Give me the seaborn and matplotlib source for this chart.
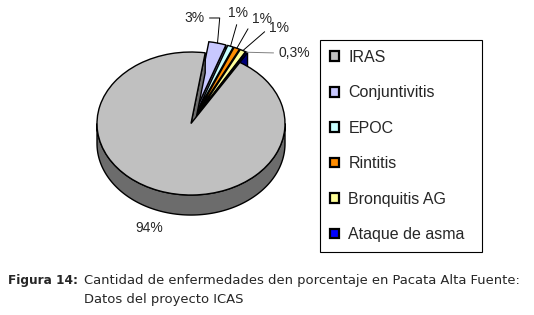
import numpy as np
import matplotlib
matplotlib.use("Agg")
import matplotlib.pyplot as plt
import seaborn as sns
from matplotlib.patches import Patch

# data
diseases = ["IRAS", "Conjuntivitis", "EPOC", "Rintitis", "Bronquitis AG", "Ataque de asma"]
percents = [94, 3, 1, 1, 1, 0.3]
pct_labels = ["94%", "3%", "1%", "1%", "1%", "0,3%"]

# style
top_colors = ["#c0c0c0", "#c8c8ff", "#c8ffff", "#ff8c00", "#ffff99", "#0000ff"]
side_colors = ["#6c6c6c", "#6c6c9c", "#6c9c9c", "#9c5400", "#9c9c50", "#00007c"]
explode = [0, 0.16, 0.16, 0.16, 0.16, 0.16]
DEPTH = 0.28

sns.set_style("white")
plt.rcParams["font.family"] = ["Liberation Sans", "DejaVu Sans"]

fig = plt.figure(figsize=(5.34, 3.15), dpi=100)
# pie axes: 1 unit = 94 px in x, 71.5 px in y (tilted look)
ax = fig.add_axes([54.7 / 534, 0.222, 272.6 / 534, 243.1 / 315])

wedges, _ = ax.pie(percents, explode=explode, startangle=58.7, counterclock=False,
                   colors=top_colors,
                   wedgeprops=dict(edgecolor="black", linewidth=1.0))
ax.set_aspect("auto")
ax.set_xlim(-1.45, 1.45)
ax.set_ylim(-1.7, 1.7)
ax.axis("off")

# draw order: small exploded slices first (back), big slice last (front)
order = [1, 2, 3, 4, 5, 0]
z = 1
for i in order:
    w = wedges[i]
    cx, cy = w.center
    th = np.deg2rad(w.theta1)          # clockwise edge -> visible cut face
    ex, ey = cx + np.cos(th), cy + np.sin(th)
    ax.fill([cx, ex, ex, cx], [cy, ey, ey - DEPTH, cy - DEPTH],
            facecolor=side_colors[i], edgecolor="black", linewidth=1.0, zorder=z)
    z += 1
    # front rim (only the part facing the viewer)
    lo, hi = max(w.theta1, -180), min(w.theta2, 0)
    if hi > lo:
        t = np.deg2rad(np.linspace(lo, hi, 120))
        xs = cx + np.cos(t)
        ys = cy + np.sin(t)
        ax.fill(np.r_[xs, xs[::-1]], np.r_[ys, ys[::-1] - DEPTH],
                facecolor=side_colors[i], edgecolor="black", linewidth=1.0, zorder=z)
        z += 1
    w.set_zorder(z)
    z += 1

# percent labels with leader lines
label_pos = [(-0.447, -1.462), (0.04, 1.476), (0.5, 1.545),
             (0.755, 1.46), (0.936, 1.336), (1.096, 0.986)]
rel_pos = [None, (1, 0.5), (0.5, 0), (0, 0.3), (0, 0.5), (0, 0.5)]
conn = [None, "angle,angleA=0,angleB=85,rad=0", "arc3", "arc3", "arc3", "arc3"]
line_col = [None, "black", "black", "black", "black", "#808080"]
for i, w in enumerate(wedges):
    if i == 0:
        ax.text(*label_pos[i], pct_labels[i], fontsize=10, ha="center", va="center")
        continue
    cx, cy = w.center
    m = np.deg2rad((w.theta1 + w.theta2) / 2)
    ax.annotate(pct_labels[i], xy=(cx + np.cos(m), cy + np.sin(m)),
                xytext=label_pos[i], fontsize=10, ha="center", va="center",
                arrowprops=dict(arrowstyle="-", color=line_col[i], lw=0.7,
                                shrinkA=1, shrinkB=0, relpos=rel_pos[i],
                                connectionstyle=conn[i]),
                zorder=30)

handles = [Patch(facecolor=c, edgecolor="black", linewidth=1.6) for c in top_colors]
leg = fig.legend(handles, diseases, loc="upper left", mode="expand",
                 bbox_to_anchor=(320 / 534, 1 - 250 / 315, 162 / 534, 210 / 315),
                 borderaxespad=0,
                 fontsize=11.5, handlelength=0.55, handleheight=0.55,
                 handletextpad=0.6, labelspacing=1.28, borderpad=0.62,
                 fancybox=False, framealpha=1, edgecolor="black")
leg.get_frame().set_linewidth(0.8)

fig.text(8 / 534, 1 - 284 / 315, "Figura 14:", fontsize=8.7, fontweight="bold",
         family="DejaVu Sans", va="baseline")
fig.text(84 / 534, 1 - 284 / 315,
         "Cantidad de enfermedades den porcentaje en Pacata Alta Fuente:",
         fontsize=9.45, family="DejaVu Sans", va="baseline")
fig.text(84 / 534, 1 - 303 / 315, "Datos del proyecto ICAS",
         fontsize=9.45, family="DejaVu Sans", va="baseline")

fig.savefig("out.png", dpi=100, facecolor="white")
